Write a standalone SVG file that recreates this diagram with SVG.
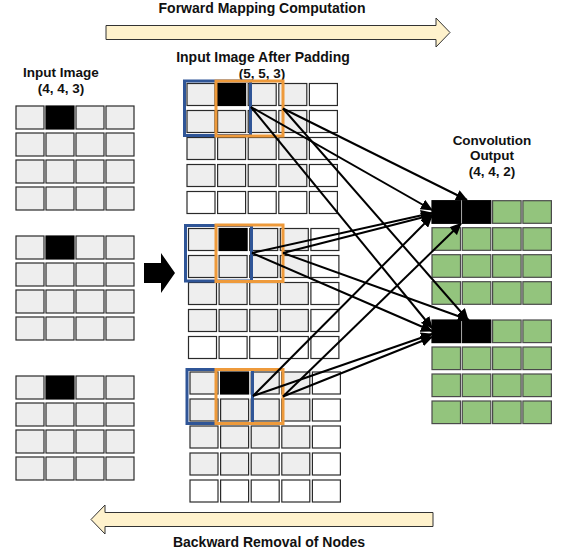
<svg xmlns="http://www.w3.org/2000/svg" width="562" height="556" viewBox="0 0 562 556">
<style>
  text { font-family: "Liberation Sans", Arial, sans-serif; font-weight: bold; font-size: 13.5px; fill: #111; text-anchor: middle; }
  text.big { font-size: 14px; }
  .g { fill: #eeeeee; stroke: #2a2a2a; stroke-width: 1.2; }
  .w { fill: #ffffff; stroke: #2a2a2a; stroke-width: 1.2; }
  .k { fill: #000000; stroke: #000000; stroke-width: 1.2; }
  .gr { fill: #93c47d; stroke: #4a4a4a; stroke-width: 1.2; }
  .blue { fill: none; stroke: #2f5597; stroke-width: 3; }
  .orange { fill: none; stroke: #ee9a3b; stroke-width: 3; }
  .bigarrow { fill: #fff2cc; stroke: #333333; stroke-width: 1; }
  .conn line { stroke: #000; stroke-width: 2; marker-end: url(#ah); }
</style>
<defs>
  <marker id="ah" markerUnits="userSpaceOnUse" markerWidth="12" markerHeight="11" viewBox="0 0 12 11" refX="11" refY="5.5" orient="auto">
    <path d="M0,0 L12,5.5 L0,11 Z" fill="#000"/>
  </marker>
  <g id="lrow4g"><rect x="0" y="0" width="28" height="23" class="g"/><rect x="30" y="0" width="28" height="23" class="g"/><rect x="60" y="0" width="28" height="23" class="g"/><rect x="90" y="0" width="28" height="23" class="g"/></g>
  <g id="lrow4k"><rect x="0" y="0" width="28" height="23" class="g"/><rect x="30" y="0" width="28" height="23" class="k"/><rect x="60" y="0" width="28" height="23" class="g"/><rect x="90" y="0" width="28" height="23" class="g"/></g>
  <g id="lgrid"><use href="#lrow4k"/><use href="#lrow4g" y="27"/><use href="#lrow4g" y="54"/><use href="#lrow4g" y="81"/></g>
  <g id="mrowk"><rect x="0" y="0" width="28" height="22" class="g"/><rect x="30.6" y="0" width="28" height="22" class="k"/><rect x="61.2" y="0" width="28" height="22" class="g"/><rect x="91.8" y="0" width="28" height="22" class="g"/><rect x="122.4" y="0" width="28" height="22" class="w"/></g>
  <g id="mrowg"><rect x="0" y="0" width="28" height="22" class="g"/><rect x="30.6" y="0" width="28" height="22" class="g"/><rect x="61.2" y="0" width="28" height="22" class="g"/><rect x="91.8" y="0" width="28" height="22" class="g"/><rect x="122.4" y="0" width="28" height="22" class="w"/></g>
  <g id="mroww"><rect x="0" y="0" width="28" height="22" class="w"/><rect x="30.6" y="0" width="28" height="22" class="w"/><rect x="61.2" y="0" width="28" height="22" class="w"/><rect x="91.8" y="0" width="28" height="22" class="w"/><rect x="122.4" y="0" width="28" height="22" class="w"/></g>
  <g id="mgrid"><use href="#mrowk"/><use href="#mrowg" y="27"/><use href="#mrowg" y="54"/><use href="#mrowg" y="81"/><use href="#mroww" y="108"/></g>
  <g id="orowk"><rect x="0" y="0" width="28.5" height="22.6" class="k"/><rect x="30.3" y="0" width="28.5" height="22.6" class="k"/><rect x="60.6" y="0" width="28.5" height="22.6" class="gr"/><rect x="90.9" y="0" width="28.5" height="22.6" class="gr"/></g>
  <g id="orowg"><rect x="0" y="0" width="28.5" height="22.6" class="gr"/><rect x="30.3" y="0" width="28.5" height="22.6" class="gr"/><rect x="60.6" y="0" width="28.5" height="22.6" class="gr"/><rect x="90.9" y="0" width="28.5" height="22.6" class="gr"/></g>
  <g id="ogrid"><use href="#orowk"/><use href="#orowg" y="27"/><use href="#orowg" y="54"/><use href="#orowg" y="81"/></g>
</defs>
<rect width="562" height="556" fill="#ffffff"/>

<g id="forward-arrow">
  <path class="bigarrow" d="M106,25.5 H436 V18 L450,32.5 L436,47 V39.5 H106 Z"/>
  <text class="big" x="262" y="13">Forward Mapping Computation</text>
</g>

<g id="input-image">
  <text x="61" y="77">Input Image</text>
  <text x="61" y="93">(4, 4, 3)</text>
  <use href="#lgrid" x="16" y="106"/>
  <use href="#lgrid" x="16" y="236"/>
  <use href="#lgrid" x="16" y="376"/>
</g>

<g id="pad-arrow">
  <path d="M144,263 H161 V253 L175,273 L161,293 V283 H144 Z" fill="#000"/>
</g>

<g id="padded-image">
  <text class="big" x="263" y="62">Input Image After Padding</text>
  <text x="262" y="78">(5, 5, 3)</text>
  <use href="#mgrid" x="187" y="83.5"/>
  <use href="#mgrid" x="188.5" y="228.5"/>
  <use href="#mgrid" x="190" y="372"/>
  <rect class="blue" x="184.5" y="81" width="66" height="54.5"/>
  <rect class="orange" x="216" y="81" width="67" height="55"/>
  <rect class="blue" x="185.5" y="225.5" width="66" height="55.5"/>
  <rect class="orange" x="216" y="225" width="67" height="56.5"/>
  <rect class="blue" x="187" y="369.5" width="65.5" height="54"/>
  <rect class="orange" x="216" y="369.5" width="67" height="54"/>
</g>

<g id="conv-output">
  <text x="492" y="145">Convolution</text>
  <text x="492" y="160">Output</text>
  <text x="492" y="176">(4, 4, 2)</text>
  <use href="#ogrid" x="432" y="200.7"/>
  <use href="#ogrid" x="432" y="320"/>
</g>

<g id="connectors" class="conn">
  <line x1="251" y1="107" x2="432" y2="210"/>
  <line x1="251" y1="107" x2="432" y2="328"/>
  <line x1="283" y1="108.5" x2="467" y2="200"/>
  <line x1="283" y1="108.5" x2="468" y2="320"/>
  <line x1="252" y1="253" x2="432" y2="213"/>
  <line x1="283" y1="253" x2="432" y2="215"/>
  <line x1="252" y1="253" x2="432" y2="331"/>
  <line x1="283" y1="253" x2="469" y2="320"/>
  <line x1="253" y1="396" x2="432" y2="216"/>
  <line x1="283" y1="396.5" x2="461" y2="223.5"/>
  <line x1="253" y1="396" x2="432" y2="334"/>
  <line x1="283" y1="396.5" x2="432" y2="337"/>
</g>

<g id="backward-arrow">
  <path class="bigarrow" d="M91,519.5 L105,505 V512.5 H433 V526.5 H105 V534 Z"/>
  <text class="big" x="269" y="547">Backward Removal of Nodes</text>
</g>
</svg>
